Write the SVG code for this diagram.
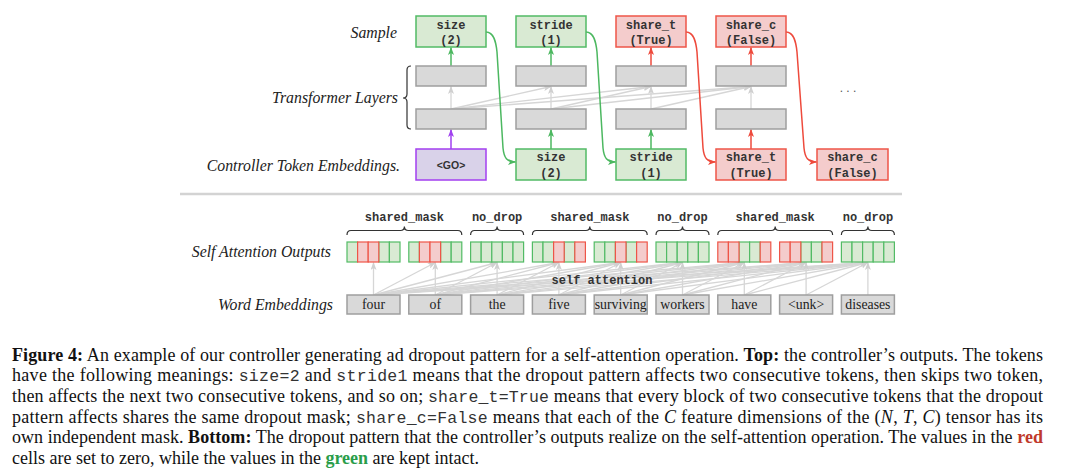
<svg xmlns="http://www.w3.org/2000/svg" width="1080" height="474" viewBox="0 0 1080 474">
<style>
.lbl{font-family:"Liberation Serif",serif;font-style:italic;font-size:15.8px;fill:#222;text-anchor:end}
.mono{font-family:"Liberation Mono",monospace;font-weight:bold;font-size:12px;fill:#333;text-anchor:middle}
.go{font-family:"Liberation Sans",sans-serif;font-weight:bold;font-size:10.5px;fill:#333;text-anchor:middle}
.word{font-family:"Liberation Serif",serif;font-size:13.8px;fill:#222;text-anchor:middle}
.gbox{fill:#d9ead3;stroke:#52bb65;stroke-width:1.5}
.rbox{fill:#f4cccc;stroke:#ee5548;stroke-width:1.5}
.pbox{fill:#d9d2e9;stroke:#a33ff0;stroke-width:1.5}
.layer{fill:#d9d9d9;stroke:#9e9e9e;stroke-width:1.5}
.cg{fill:#d9ead3;stroke:#52bb65;stroke-width:1.2}
.cr{fill:#f4cccc;stroke:#ee5548;stroke-width:1.2}
.gl{stroke:#d6d6d6;stroke-width:1.3;fill:none;marker-end:url(#ay)}
.brace{fill:none;stroke:#333;stroke-width:1.2}
.cap{font-family:"Liberation Serif",serif;font-size:18px;fill:#111}
.tt{font-family:"Liberation Mono",monospace;font-size:16.5px;fill:#333}
</style>
<defs>
<marker id="ag" viewBox="0 0 8 6" refX="7.5" refY="3" markerWidth="8" markerHeight="6" markerUnits="userSpaceOnUse" orient="auto"><path d="M0,0 L8,3 L0,6 L2,3z" fill="#4cb860"/></marker>
<marker id="ar" viewBox="0 0 8 6" refX="7.5" refY="3" markerWidth="8" markerHeight="6" markerUnits="userSpaceOnUse" orient="auto"><path d="M0,0 L8,3 L0,6 L2,3z" fill="#ee4a3c"/></marker>
<marker id="ap" viewBox="0 0 8 6" refX="7.5" refY="3" markerWidth="8" markerHeight="6" markerUnits="userSpaceOnUse" orient="auto"><path d="M0,0 L8,3 L0,6 L2,3z" fill="#a040f0"/></marker>
<marker id="ay" viewBox="0 0 8 6" refX="7.5" refY="3" markerWidth="8" markerHeight="6" markerUnits="userSpaceOnUse" orient="auto"><path d="M0,0 L8,3 L0,6 L2,3z" fill="#d0d0d0"/></marker>
</defs>
<rect width="1080" height="474" fill="#fff"/>

<!-- labels -->
<g id="labels">
<text class="lbl" x="397" y="38">Sample</text>
<text class="lbl" x="398" y="103">Transformer Layers</text>
<text class="lbl" x="400" y="171">Controller Token Embeddings.</text>
<text class="lbl" x="331" y="257">Self Attention Outputs</text>
<text class="lbl" x="333" y="310">Word Embeddings</text>
<path class="brace" d="M411,66 Q407,66 407,70 L407,94 Q407,98 403,98 Q407,98 407,102 L407,125 Q407,129 411,129"/>
<text x="848" y="92" font-family="Liberation Sans,sans-serif" font-size="12" fill="#555" text-anchor="middle">. . .</text>
</g>

<!-- connectors -->
<g id="connectors">
<line class="gl" x1="451" y1="109" x2="451" y2="86.5"/>
<line class="gl" x1="551" y1="109" x2="551" y2="86.5"/>
<line class="gl" x1="651" y1="109" x2="651" y2="86.5"/>
<line class="gl" x1="751" y1="109" x2="751" y2="86.5"/>
<line class="gl" x1="451" y1="109" x2="551" y2="86.5"/>
<line class="gl" x1="451" y1="109" x2="651" y2="86.5"/>
<line class="gl" x1="451" y1="109" x2="751" y2="86.5"/>
<line class="gl" x1="551" y1="109" x2="651" y2="86.5"/>
<line class="gl" x1="551" y1="109" x2="751" y2="86.5"/>
<line class="gl" x1="651" y1="109" x2="751" y2="86.5"/>
<line x1="451" y1="66" x2="451" y2="47.5" stroke="#4cb860" stroke-width="1.5" marker-end="url(#ag)"/>
<line x1="551" y1="66" x2="551" y2="47.5" stroke="#4cb860" stroke-width="1.5" marker-end="url(#ag)"/>
<line x1="651" y1="66" x2="651" y2="47.5" stroke="#ee4a3c" stroke-width="1.5" marker-end="url(#ar)"/>
<line x1="751" y1="66" x2="751" y2="47.5" stroke="#ee4a3c" stroke-width="1.5" marker-end="url(#ar)"/>
<line x1="451" y1="149" x2="451" y2="129.5" stroke="#a040f0" stroke-width="1.5" marker-end="url(#ap)"/>
<line x1="551" y1="149" x2="551" y2="129.5" stroke="#4cb860" stroke-width="1.5" marker-end="url(#ag)"/>
<line x1="651" y1="149" x2="651" y2="129.5" stroke="#4cb860" stroke-width="1.5" marker-end="url(#ag)"/>
<line x1="751" y1="149" x2="751" y2="129.5" stroke="#ee4a3c" stroke-width="1.5" marker-end="url(#ar)"/>
<path d="M486,32 C494,32 496,42 497,52 L503,148 C504,158 507,162 515.5,162" fill="none" stroke="#4cb860" stroke-width="1.5" marker-end="url(#ag)"/>
<path d="M586,32 C594,32 596,42 597,52 L603,148 C604,158 607,162 615.5,162" fill="none" stroke="#4cb860" stroke-width="1.5" marker-end="url(#ag)"/>
<path d="M686,32 C694,32 696,42 697,52 L703,148 C704,158 707,162 715.5,162" fill="none" stroke="#ee4a3c" stroke-width="1.5" marker-end="url(#ar)"/>
<path d="M786,32 C794,32 796,42 797,52 L804,148 C805,158 808,162 816.5,162" fill="none" stroke="#ee4a3c" stroke-width="1.5" marker-end="url(#ar)"/>
<g>
<line class="gl" x1="373.5" y1="295" x2="373.5" y2="262.5"/>
<line class="gl" x1="373.5" y1="295" x2="435.3" y2="262.5"/>
<line class="gl" x1="373.5" y1="295" x2="497.1" y2="262.5"/>
<line class="gl" x1="373.5" y1="295" x2="558.9" y2="262.5"/>
<line class="gl" x1="373.5" y1="295" x2="620.7" y2="262.5"/>
<line class="gl" x1="373.5" y1="295" x2="682.5" y2="262.5"/>
<line class="gl" x1="373.5" y1="295" x2="744.3" y2="262.5"/>
<line class="gl" x1="373.5" y1="295" x2="806.1" y2="262.5"/>
<line class="gl" x1="373.5" y1="295" x2="867.9" y2="262.5"/>
<line class="gl" x1="435.3" y1="295" x2="435.3" y2="262.5"/>
<line class="gl" x1="435.3" y1="295" x2="497.1" y2="262.5"/>
<line class="gl" x1="435.3" y1="295" x2="558.9" y2="262.5"/>
<line class="gl" x1="435.3" y1="295" x2="620.7" y2="262.5"/>
<line class="gl" x1="435.3" y1="295" x2="682.5" y2="262.5"/>
<line class="gl" x1="435.3" y1="295" x2="744.3" y2="262.5"/>
<line class="gl" x1="435.3" y1="295" x2="806.1" y2="262.5"/>
<line class="gl" x1="435.3" y1="295" x2="867.9" y2="262.5"/>
<line class="gl" x1="497.1" y1="295" x2="497.1" y2="262.5"/>
<line class="gl" x1="497.1" y1="295" x2="558.9" y2="262.5"/>
<line class="gl" x1="497.1" y1="295" x2="620.7" y2="262.5"/>
<line class="gl" x1="497.1" y1="295" x2="682.5" y2="262.5"/>
<line class="gl" x1="497.1" y1="295" x2="744.3" y2="262.5"/>
<line class="gl" x1="497.1" y1="295" x2="806.1" y2="262.5"/>
<line class="gl" x1="497.1" y1="295" x2="867.9" y2="262.5"/>
<line class="gl" x1="558.9" y1="295" x2="558.9" y2="262.5"/>
<line class="gl" x1="558.9" y1="295" x2="620.7" y2="262.5"/>
<line class="gl" x1="558.9" y1="295" x2="682.5" y2="262.5"/>
<line class="gl" x1="558.9" y1="295" x2="744.3" y2="262.5"/>
<line class="gl" x1="558.9" y1="295" x2="806.1" y2="262.5"/>
<line class="gl" x1="558.9" y1="295" x2="867.9" y2="262.5"/>
<line class="gl" x1="620.7" y1="295" x2="620.7" y2="262.5"/>
<line class="gl" x1="620.7" y1="295" x2="682.5" y2="262.5"/>
<line class="gl" x1="620.7" y1="295" x2="744.3" y2="262.5"/>
<line class="gl" x1="620.7" y1="295" x2="806.1" y2="262.5"/>
<line class="gl" x1="620.7" y1="295" x2="867.9" y2="262.5"/>
<line class="gl" x1="682.5" y1="295" x2="682.5" y2="262.5"/>
<line class="gl" x1="682.5" y1="295" x2="744.3" y2="262.5"/>
<line class="gl" x1="682.5" y1="295" x2="806.1" y2="262.5"/>
<line class="gl" x1="682.5" y1="295" x2="867.9" y2="262.5"/>
<line class="gl" x1="744.3" y1="295" x2="744.3" y2="262.5"/>
<line class="gl" x1="744.3" y1="295" x2="806.1" y2="262.5"/>
<line class="gl" x1="744.3" y1="295" x2="867.9" y2="262.5"/>
<line class="gl" x1="806.1" y1="295" x2="806.1" y2="262.5"/>
<line class="gl" x1="806.1" y1="295" x2="867.9" y2="262.5"/>
<line class="gl" x1="867.9" y1="295" x2="867.9" y2="262.5"/>
</g>
<text class="mono" x="602" y="284">self attention</text>
</g>

<line x1="180" y1="194" x2="902" y2="194" stroke="#d3d3d3" stroke-width="2.5"/>

<g id="sample-size"><rect class="gbox" x="416" y="16" width="70" height="31"/><text class="mono" x="451" y="28.5">size</text><text class="mono" x="451" y="43.5">(2)</text></g>
<g id="sample-stride"><rect class="gbox" x="516" y="16" width="70" height="31"/><text class="mono" x="551" y="28.5">stride</text><text class="mono" x="551" y="43.5">(1)</text></g>
<g id="sample-share-t"><rect class="rbox" x="616" y="16" width="70" height="31"/><text class="mono" x="651" y="28.5">share_t</text><text class="mono" x="651" y="43.5">(True)</text></g>
<g id="sample-share-c"><rect class="rbox" x="716" y="16" width="70" height="31"/><text class="mono" x="751" y="28.5">share_c</text><text class="mono" x="751" y="43.5">(False)</text></g>

<g id="layer-1-upper"><rect class="layer" x="416" y="66" width="70" height="20"/></g>
<g id="layer-2-upper"><rect class="layer" x="516" y="66" width="70" height="20"/></g>
<g id="layer-3-upper"><rect class="layer" x="616" y="66" width="70" height="20"/></g>
<g id="layer-4-upper"><rect class="layer" x="716" y="66" width="70" height="20"/></g>
<g id="layer-1-lower"><rect class="layer" x="416" y="109" width="70" height="20"/></g>
<g id="layer-2-lower"><rect class="layer" x="516" y="109" width="70" height="20"/></g>
<g id="layer-3-lower"><rect class="layer" x="616" y="109" width="70" height="20"/></g>
<g id="layer-4-lower"><rect class="layer" x="716" y="109" width="70" height="20"/></g>

<g id="emb-go"><rect class="pbox" x="416" y="149" width="70" height="31"/><text class="go" x="451" y="168.5">&lt;GO&gt;</text></g>
<g id="emb-size"><rect class="gbox" x="516" y="149" width="70" height="31"/><text class="mono" x="551" y="161">size</text><text class="mono" x="551" y="176.5">(2)</text></g>
<g id="emb-stride"><rect class="gbox" x="616" y="149" width="70" height="31"/><text class="mono" x="651" y="161">stride</text><text class="mono" x="651" y="176.5">(1)</text></g>
<g id="emb-share-t"><rect class="rbox" x="716" y="149" width="70" height="31"/><text class="mono" x="751" y="161">share_t</text><text class="mono" x="751" y="176.5">(True)</text></g>
<g id="emb-share-c"><rect class="rbox" x="817" y="149" width="71" height="31"/><text class="mono" x="852.5" y="161">share_c</text><text class="mono" x="852.5" y="176.5">(False)</text></g>

<g id="mask-labels">
<path class="brace" d="M347,235 Q347,230.5 351,230.5 L400.4,230.5 Q404.4,230.5 404.4,226.5 Q404.4,230.5 408.4,230.5 L457.8,230.5 Q461.8,230.5 461.8,235"/>
<path class="brace" d="M470.6,235 Q470.6,230.5 474.6,230.5 L493.1,230.5 Q497.1,230.5 497.1,226.5 Q497.1,230.5 501.1,230.5 L519.6,230.5 Q523.6,230.5 523.6,235"/>
<path class="brace" d="M532.4,235 Q532.4,230.5 536.4,230.5 L585.8,230.5 Q589.8,230.5 589.8,226.5 Q589.8,230.5 593.8,230.5 L643.2,230.5 Q647.2,230.5 647.2,235"/>
<path class="brace" d="M656,235 Q656,230.5 660,230.5 L678.5,230.5 Q682.5,230.5 682.5,226.5 Q682.5,230.5 686.5,230.5 L705,230.5 Q709,230.5 709,235"/>
<path class="brace" d="M717.8,235 Q717.8,230.5 721.8,230.5 L771.2,230.5 Q775.2,230.5 775.2,226.5 Q775.2,230.5 779.2,230.5 L828.6,230.5 Q832.6,230.5 832.6,235"/>
<path class="brace" d="M841.4,235 Q841.4,230.5 845.4,230.5 L863.9,230.5 Q867.9,230.5 867.9,226.5 Q867.9,230.5 871.9,230.5 L890.4,230.5 Q894.4,230.5 894.4,235"/>
<text class="mono" x="404.4" y="221">shared_mask</text>
<text class="mono" x="497.1" y="221">no_drop</text>
<text class="mono" x="589.8" y="221">shared_mask</text>
<text class="mono" x="682.5" y="221">no_drop</text>
<text class="mono" x="775.2" y="221">shared_mask</text>
<text class="mono" x="867.9" y="221">no_drop</text>
</g>

<g id="out-four"><rect class="cg" x="347" y="242" width="10.6" height="20"/><rect class="cg" x="378.8" y="242" width="10.6" height="20"/><rect class="cg" x="389.4" y="242" width="10.6" height="20"/><rect class="cr" x="357.6" y="242" width="10.6" height="20"/><rect class="cr" x="368.2" y="242" width="10.6" height="20"/></g>
<g id="out-of"><rect class="cg" x="408.8" y="242" width="10.6" height="20"/><rect class="cg" x="440.6" y="242" width="10.6" height="20"/><rect class="cg" x="451.2" y="242" width="10.6" height="20"/><rect class="cr" x="419.4" y="242" width="10.6" height="20"/><rect class="cr" x="430" y="242" width="10.6" height="20"/></g>
<g id="out-the"><rect class="cg" x="470.6" y="242" width="10.6" height="20"/><rect class="cg" x="481.2" y="242" width="10.6" height="20"/><rect class="cg" x="491.8" y="242" width="10.6" height="20"/><rect class="cg" x="502.4" y="242" width="10.6" height="20"/><rect class="cg" x="513" y="242" width="10.6" height="20"/></g>
<g id="out-five"><rect class="cg" x="532.4" y="242" width="10.6" height="20"/><rect class="cg" x="543" y="242" width="10.6" height="20"/><rect class="cg" x="564.2" y="242" width="10.6" height="20"/><rect class="cr" x="553.6" y="242" width="10.6" height="20"/><rect class="cr" x="574.8" y="242" width="10.6" height="20"/></g>
<g id="out-surviving"><rect class="cg" x="594.2" y="242" width="10.6" height="20"/><rect class="cg" x="604.8" y="242" width="10.6" height="20"/><rect class="cg" x="626" y="242" width="10.6" height="20"/><rect class="cr" x="615.4" y="242" width="10.6" height="20"/><rect class="cr" x="636.6" y="242" width="10.6" height="20"/></g>
<g id="out-workers"><rect class="cg" x="656" y="242" width="10.6" height="20"/><rect class="cg" x="666.6" y="242" width="10.6" height="20"/><rect class="cg" x="677.2" y="242" width="10.6" height="20"/><rect class="cg" x="687.8" y="242" width="10.6" height="20"/><rect class="cg" x="698.4" y="242" width="10.6" height="20"/></g>
<g id="out-have"><rect class="cg" x="739" y="242" width="10.6" height="20"/><rect class="cg" x="749.6" y="242" width="10.6" height="20"/><rect class="cr" x="717.8" y="242" width="10.6" height="20"/><rect class="cr" x="728.4" y="242" width="10.6" height="20"/><rect class="cr" x="760.2" y="242" width="10.6" height="20"/></g>
<g id="out-unk"><rect class="cg" x="800.8" y="242" width="10.6" height="20"/><rect class="cg" x="811.4" y="242" width="10.6" height="20"/><rect class="cr" x="779.6" y="242" width="10.6" height="20"/><rect class="cr" x="790.2" y="242" width="10.6" height="20"/><rect class="cr" x="822" y="242" width="10.6" height="20"/></g>
<g id="out-diseases"><rect class="cg" x="841.4" y="242" width="10.6" height="20"/><rect class="cg" x="852" y="242" width="10.6" height="20"/><rect class="cg" x="862.6" y="242" width="10.6" height="20"/><rect class="cg" x="873.2" y="242" width="10.6" height="20"/><rect class="cg" x="883.8" y="242" width="10.6" height="20"/></g>

<g id="w-four"><rect class="layer" x="347" y="295" width="53" height="19"/><text class="word" x="373.5" y="309">four</text></g>
<g id="w-of"><rect class="layer" x="408.8" y="295" width="53" height="19"/><text class="word" x="435.3" y="309">of</text></g>
<g id="w-the"><rect class="layer" x="470.6" y="295" width="53" height="19"/><text class="word" x="497.1" y="309">the</text></g>
<g id="w-five"><rect class="layer" x="532.4" y="295" width="53" height="19"/><text class="word" x="558.9" y="309">five</text></g>
<g id="w-surviving"><rect class="layer" x="594.2" y="295" width="53" height="19"/><text class="word" x="620.7" y="309">surviving</text></g>
<g id="w-workers"><rect class="layer" x="656" y="295" width="53" height="19"/><text class="word" x="682.5" y="309">workers</text></g>
<g id="w-have"><rect class="layer" x="717.8" y="295" width="53" height="19"/><text class="word" x="744.3" y="309">have</text></g>
<g id="w-unk"><rect class="layer" x="779.6" y="295" width="53" height="19"/><text class="word" x="806.1" y="309">&lt;unk&gt;</text></g>
<g id="w-diseases"><rect class="layer" x="841.4" y="295" width="53" height="19"/><text class="word" x="867.9" y="309">diseases</text></g>

<g id="caption">
<text class="cap" x="12" y="360.5" textLength="1031" lengthAdjust="spacing"><tspan font-weight="bold">Figure 4:</tspan> An example of our controller generating ad dropout pattern for a self-attention operation. <tspan font-weight="bold">Top:</tspan> the controller’s outputs. The tokens</text>
<text class="cap" x="12" y="381" textLength="1031" lengthAdjust="spacing">have the following meanings: <tspan class="tt">size=2</tspan> and <tspan class="tt">stride1</tspan> means that the dropout pattern affects two consecutive tokens, then skips two token,</text>
<text class="cap" x="12" y="401.5" textLength="1031" lengthAdjust="spacing">then affects the next two consecutive tokens, and so on; <tspan class="tt">share_t=True</tspan> means that every block of two consecutive tokens that the dropout</text>
<text class="cap" x="12" y="422.5" textLength="1031" lengthAdjust="spacing">pattern affects shares the same dropout mask; <tspan class="tt">share_c=False</tspan> means that each of the <tspan font-style="italic">C</tspan> feature dimensions of the (<tspan font-style="italic">N</tspan>, <tspan font-style="italic">T</tspan>, <tspan font-style="italic">C</tspan>) tensor has its</text>
<text class="cap" x="12" y="443" textLength="1031" lengthAdjust="spacing">own independent mask. <tspan font-weight="bold">Bottom:</tspan> The dropout pattern that the controller’s outputs realize on the self-attention operation. The values in the <tspan font-weight="bold" fill="#c0392b">red</tspan></text>
<text class="cap" x="12" y="463.5">cells are set to zero, while the values in the <tspan font-weight="bold" fill="#2a9d4a">green</tspan> are kept intact.</text>
</g>
</svg>
